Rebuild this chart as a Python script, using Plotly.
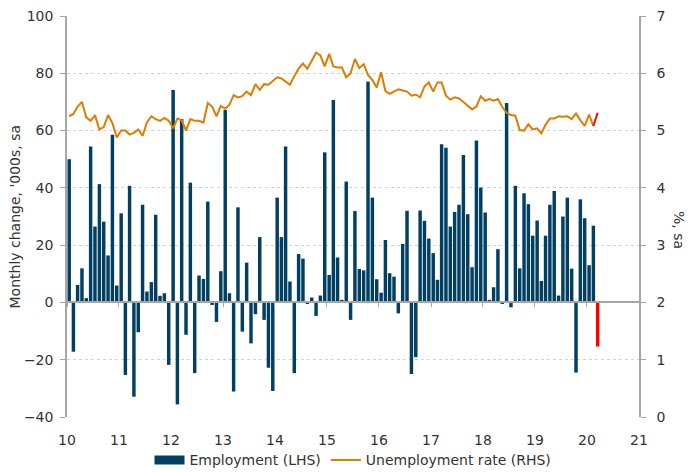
import plotly.graph_objects as go
import pandas as pd

# Monthly employment change, '000s (Jan 2010 - Feb 2020)
emp_2010 = [50.0, -17.2, 6.1, 11.9, 1.5, 54.4, 26.5, 41.3, 28.2, 16.4, 58.5, 5.9]
emp_2011 = [31.1, -25.3, 40.7, -32.9, -10.4, 34.1, 3.8, 7.1, 30.6, 2.3, 3.2, -21.8]
emp_2012 = [74.2, -35.6, 64.0, -11.3, 41.8, -24.7, 9.4, 8.2, 35.2, -0.9, -6.8, 10.9]
emp_2013 = [67.2, 3.2, -31.1, 33.2, -10.2, 13.9, -14.3, -4.1, 22.8, -6.1, -22.8, -30.9]
emp_2014 = [36.6, 22.8, 54.4, 7.3, -24.7, 16.9, 15.3, -0.5, 1.7, -4.7, 2.4, 52.4]
emp_2015 = [9.6, 70.7, 15.7, 0.9, 42.2, -6.1, 31.9, 11.7, 11.2, 77.1, 36.6, 8.1]
emp_2016 = [3.4, 21.8, 10.2, 9.0, -3.8, 20.4, 32.0, -25.0, -19.1, 32.1, 28.5, 22.3]
emp_2017 = [17.2, 7.9, 55.2, 54.0, 26.5, 31.6, 34.1, 51.5, 30.8, 12.3, 56.5, 40.1]
emp_2018 = [31.4, 0.9, 5.3, 18.6, -0.5, 69.6, -1.7, 40.7, 11.9, 38.1, 34.3, 23.3]
emp_2019 = [28.6, 7.5, 23.3, 34.1, 38.9, 2.4, 30.0, 36.6, 11.8, -24.5, 36.0, 29.4]
emp_2020 = [13.0, 26.8]
emp_forecast = [-15.4]

# Unemployment rate, % (Jan 2010 - Feb 2020)
ur_2010 = [5.25, 5.29, 5.42, 5.50, 5.23, 5.17, 5.27, 5.02, 5.06, 5.27, 5.13, 4.88]
ur_2011 = [5.00, 5.00, 4.93, 4.96, 5.02, 4.91, 5.14, 5.25, 5.20, 5.17, 5.22, 5.17]
ur_2012 = [5.04, 5.21, 5.18, 5.00, 5.20, 5.17, 5.17, 5.14, 5.48, 5.42, 5.25, 5.43]
ur_2013 = [5.38, 5.45, 5.62, 5.58, 5.60, 5.68, 5.62, 5.81, 5.71, 5.81, 5.80, 5.87]
ur_2014 = [5.93, 5.91, 5.85, 5.80, 5.95, 6.08, 6.17, 6.08, 6.22, 6.36, 6.31, 6.12]
ur_2015 = [6.34, 6.12, 6.10, 6.10, 5.93, 6.00, 6.25, 6.09, 6.16, 5.97, 5.88, 5.75]
ur_2016 = [6.02, 5.69, 5.64, 5.68, 5.72, 5.70, 5.68, 5.61, 5.63, 5.58, 5.77, 5.84]
ur_2017 = [5.68, 5.84, 5.84, 5.61, 5.54, 5.58, 5.56, 5.50, 5.43, 5.37, 5.42, 5.60]
ur_2018 = [5.52, 5.55, 5.52, 5.55, 5.41, 5.31, 5.27, 5.26, 5.01, 5.00, 5.11, 5.02]
ur_2019 = [5.04, 4.95, 5.10, 5.21, 5.21, 5.25, 5.24, 5.25, 5.20, 5.30, 5.18, 5.08]
ur_2020 = [5.28, 5.08]
ur_forecast = [5.31]

year_ticks = ["10", "11", "12", "13", "14", "15", "16", "17", "18", "19", "20", "21"]

employment = (emp_2010 + emp_2011 + emp_2012 + emp_2013 + emp_2014 + emp_2015 +
              emp_2016 + emp_2017 + emp_2018 + emp_2019 + emp_2020)
unemployment = (ur_2010 + ur_2011 + ur_2012 + ur_2013 + ur_2014 + ur_2015 +
                ur_2016 + ur_2017 + ur_2018 + ur_2019 + ur_2020)

months = pd.date_range("2010-01-01", periods=len(employment), freq="MS")
fc_months = pd.date_range(months[-1] + pd.offsets.MonthBegin(1), periods=len(emp_forecast), freq="MS")

NAVY = "#013F63"
ORANGE = "#E07C00"
RED = "#FF0000"
GREY = "#A6A6A6"
TXT = "#333333"
FONT = "DejaVu Sans"
FS = 14

bar_w = 0.8 * 30.4 * 86400000

fig = go.Figure()
fig.add_trace(go.Bar(x=months, y=employment, name="Employment (LHS)", marker_color=NAVY,
                     marker_line_width=0, width=bar_w, xperiod="M1", xperiodalignment="middle",
                     showlegend=False, legendgroup="emp"))
# legend entry for the bars (wide navy block like the original)
fig.add_trace(go.Scatter(x=[None], y=[None], mode="lines", name="Employment (LHS)",
                         line=dict(color=NAVY, width=9), legendgroup="emp"))
fig.add_trace(go.Bar(x=fc_months, y=emp_forecast, marker_color=RED, marker_line_width=0,
                     width=bar_w, xperiod="M1", xperiodalignment="middle", showlegend=False))
fig.add_trace(go.Scatter(x=months, y=unemployment, yaxis="y2", mode="lines",
                         name="Unemployment rate (RHS)", line=dict(color=ORANGE, width=2),
                         xperiod="M1", xperiodalignment="middle"))
fig.add_trace(go.Scatter(x=[months[-1]] + list(fc_months), y=[unemployment[-1]] + ur_forecast,
                         yaxis="y2", mode="lines", line=dict(color=RED, width=2),
                         xperiod="M1", xperiodalignment="middle", showlegend=False))
# helper trace to activate the zero-line axis with year ticks
fig.add_trace(go.Scatter(x=[months[0]], y=[0], xaxis="x2", mode="markers",
                         marker=dict(opacity=0), showlegend=False, hoverinfo="skip"))

tickvals = pd.date_range("2010-01-01", periods=len(year_ticks), freq="YS")
xrange = [tickvals[0], tickvals[-1]]

fig.update_layout(
    width=689, height=472, autosize=False,
    margin=dict(l=67, r=50, t=16, b=55, autoexpand=False),
    paper_bgcolor="white", plot_bgcolor="white",
    font=dict(family=FONT, size=FS, color=TXT),
    barmode="overlay",
    xaxis=dict(type="date", range=xrange, tickvals=tickvals, ticktext=year_ticks,
               showline=False, showgrid=False, zeroline=False,
               ticks="outside", ticklen=10, tickcolor="rgba(0,0,0,0)",
               tickfont=dict(size=FS, color=TXT)),
    xaxis2=dict(type="date", range=xrange, overlaying="x", anchor="free", position=40 / 140,
                tickvals=tickvals, showticklabels=False, showline=True, linecolor=GREY,
                linewidth=1.5, ticks="outside", ticklen=4, tickcolor=GREY, showgrid=False,
                zeroline=False),
    yaxis=dict(range=[-40, 100], dtick=20, showline=True, linecolor=GREY, linewidth=1.5,
               ticks="outside", ticklen=5, tickcolor=GREY, showgrid=True,
               gridcolor="#C9D6E1", griddash="dot", gridwidth=1, zeroline=False,
               ticklabelstandoff=4, tickfont=dict(size=FS, color=TXT)),
    yaxis2=dict(range=[0, 7], dtick=1, overlaying="y", side="right", showline=True,
                linecolor=GREY, linewidth=1.5, ticks="outside", ticklen=5, tickcolor=GREY,
                showgrid=False, zeroline=False, ticklabelstandoff=8,
                tickfont=dict(size=FS, color=TXT)),
    legend=dict(orientation="h", x=0.5, xanchor="center", y=-0.108, yanchor="middle",
                font=dict(size=FS, color=TXT), bgcolor="rgba(0,0,0,0)", itemwidth=30,
                tracegroupgap=0),
    annotations=[
        dict(text="Monthly change, '000s, sa", textangle=-90, xref="paper", yref="paper",
             x=(14 - 67) / 572, y=0.5, xanchor="center", yanchor="middle", showarrow=False,
             font=dict(size=FS, color=TXT)),
        dict(text="%, sa", textangle=90, xref="paper", yref="paper",
             x=(679 - 67) / 572, y=(417 - 230) / 401, xanchor="center", yanchor="middle",
             showarrow=False, font=dict(size=FS, color=TXT)),
    ],
)

fig.write_html("out.html", config={"displayModeBar": False},
               post_script="document.body.style.margin='0';")
